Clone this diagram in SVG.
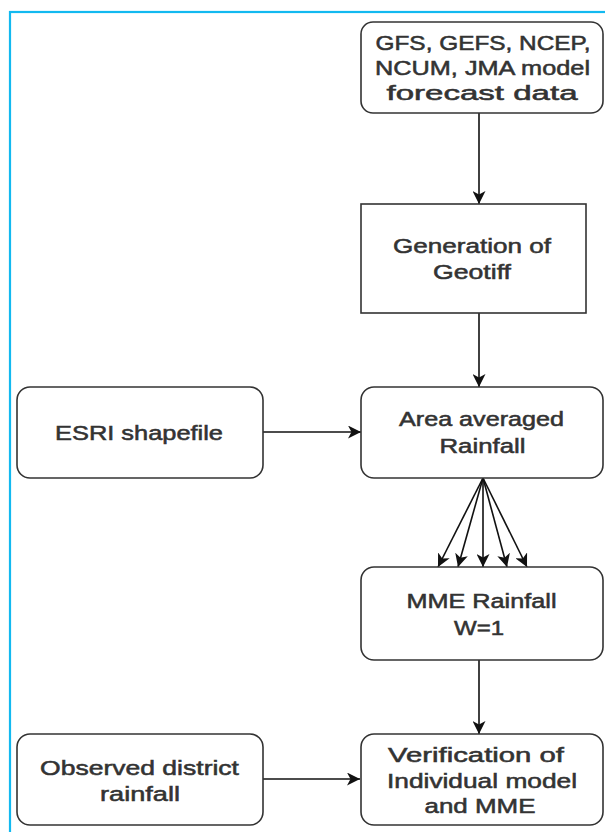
<svg xmlns="http://www.w3.org/2000/svg" width="605" height="832" viewBox="0 0 605 832">
<defs>
<style>
.box{fill:#fff;stroke:#333;stroke-width:1.6}
.t{font-family:"Liberation Sans",Arial,sans-serif;font-size:21px;fill:#333;stroke:#333;stroke-width:0.55;text-anchor:middle}
.c{fill:none;stroke:#111;stroke-width:1.6}
</style>
<marker id="ah" markerUnits="userSpaceOnUse" viewBox="0 0 13 13" markerWidth="13" markerHeight="13" refX="13" refY="6.5" orient="auto">
<path d="M0,0 L13,6.5 L0,13 L3.5,6.5 Z" fill="#111"/>
</marker>
</defs>
<rect x="0" y="0" width="605" height="832" fill="#fff"/>
<rect x="10" y="12" width="700" height="900" fill="none" stroke="#12B9F0" stroke-width="2.2"/>

<g id="connectors">
<line class="c" x1="479" y1="113" x2="479" y2="204" marker-end="url(#ah)"/>
<line class="c" x1="479" y1="313" x2="479" y2="387" marker-end="url(#ah)"/>
<line class="c" x1="263" y1="432" x2="361" y2="432" marker-end="url(#ah)" stroke="#444" stroke-width="2"/>
<line class="c" x1="483" y1="478" x2="438" y2="567" marker-end="url(#ah)"/>
<line class="c" x1="483" y1="478" x2="458" y2="567" marker-end="url(#ah)"/>
<line class="c" x1="483" y1="478" x2="483" y2="567" marker-end="url(#ah)"/>
<line class="c" x1="483" y1="478" x2="507" y2="567" marker-end="url(#ah)"/>
<line class="c" x1="483" y1="478" x2="527" y2="567" marker-end="url(#ah)"/>
<line class="c" x1="479" y1="660" x2="479" y2="734" marker-end="url(#ah)"/>
<line class="c" x1="263" y1="779" x2="360" y2="779" marker-end="url(#ah)" stroke="#444" stroke-width="2"/>
</g>

<g id="forecast">
<rect class="box" x="361" y="22" width="242" height="91" rx="12"/>
<text class="t" x="483" y="49.5" textLength="215" lengthAdjust="spacingAndGlyphs">GFS, GEFS, NCEP,</text>
<text class="t" x="482.5" y="75" textLength="215" lengthAdjust="spacingAndGlyphs">NCUM, JMA model</text>
<text class="t" x="482" y="100" textLength="191" lengthAdjust="spacingAndGlyphs">forecast data</text>
</g>

<g id="geotiff">
<rect class="box" x="361" y="204" width="225" height="109"/>
<text class="t" x="472" y="253" textLength="158" lengthAdjust="spacingAndGlyphs">Generation of</text>
<text class="t" x="472" y="279" textLength="78" lengthAdjust="spacingAndGlyphs">Geotiff</text>
</g>

<g id="esri">
<rect class="box" x="17" y="387" width="246" height="91" rx="13"/>
<text class="t" x="139" y="440" textLength="168" lengthAdjust="spacingAndGlyphs">ESRI shapefile</text>
</g>

<g id="area">
<rect class="box" x="361" y="387" width="242" height="91" rx="13"/>
<text class="t" x="481.5" y="426" textLength="165" lengthAdjust="spacingAndGlyphs">Area averaged</text>
<text class="t" x="482.5" y="452.5" textLength="86" lengthAdjust="spacingAndGlyphs">Rainfall</text>
</g>

<g id="mme">
<rect class="box" x="361" y="567" width="242" height="93" rx="13"/>
<text class="t" x="481.5" y="607.5" textLength="150" lengthAdjust="spacingAndGlyphs">MME Rainfall</text>
<text class="t" x="479" y="634.5" textLength="50" lengthAdjust="spacingAndGlyphs">W=1</text>
</g>

<g id="observed">
<rect class="box" x="17" y="734" width="246" height="91" rx="13"/>
<text class="t" x="139.5" y="775" textLength="199" lengthAdjust="spacingAndGlyphs">Observed district</text>
<text class="t" x="140" y="800.5" textLength="80" lengthAdjust="spacingAndGlyphs">rainfall</text>
</g>

<g id="verification">
<rect class="box" x="361" y="734" width="242" height="91" rx="13"/>
<text class="t" x="476" y="762" textLength="176" lengthAdjust="spacingAndGlyphs">Verification of</text>
<text class="t" x="482" y="787.5" textLength="190" lengthAdjust="spacingAndGlyphs">Individual model</text>
<text class="t" x="480" y="813" textLength="111" lengthAdjust="spacingAndGlyphs">and MME</text>
</g>
</svg>
